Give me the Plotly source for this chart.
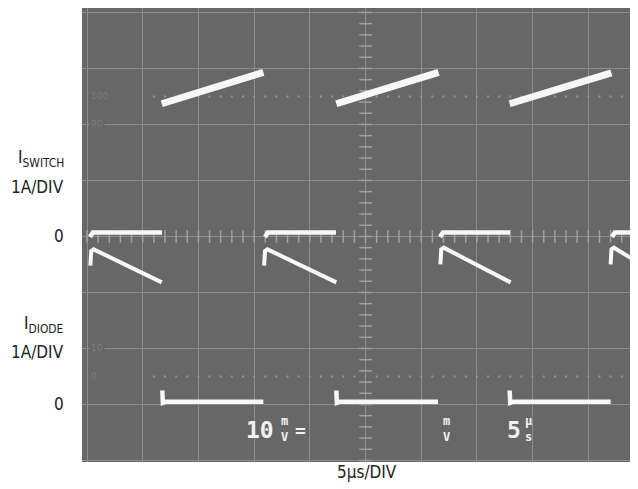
import plotly.graph_objects as go
import numpy as np

# scope settings: 5us/div horizontally, 1A/div vertically
US_PER_DIV = 5
SWITCH_ZERO_DIV = 4   # I_SWITCH ground reference (divisions from bottom)
DIODE_ZERO_DIV = 1    # I_DIODE ground reference

# I_SWITCH on-time ramps (us, A)
sw_on_start_t = [6.71, 22.38, 37.94]
sw_on_end_t = [15.83, 31.56, 47.07]
sw_on_start_i = [2.37, 2.37, 2.37]
sw_on_end_i = [2.93, 2.93, 2.92]

# I_SWITCH off-time (flat near 0)
sw_off_start_t = [0.27, 15.98, 31.69, 47.13]
sw_off_end_t = [6.73, 22.35, 37.97, 49.6]
sw_off_i = 0.07

# I_DIODE ramps (off-time of the switch)
di_start_t = [0.30, 15.90, 31.72, 47.00]
di_end_t = [6.71, 22.38, 38.03, 49.6]
di_edge_i = [2.48, 2.48, 2.50, 2.50]
di_peak_i = [2.77, 2.77, 2.80, 2.80]
di_end_i = [2.18, 2.18, 2.18, 2.52]

# I_DIODE zero portions
di_zero_start_t = [6.76, 22.38, 37.94]
di_zero_end_t = [15.83, 31.51, 47.01]
di_zero_spike_i = 0.25
di_zero_i = 0.05

BG = "#676767"
GRID = "#8d8d8d"
TRACE = "#f7f7f7"

fig = go.Figure()


def seg_trace(xs, ys, width):
    fig.add_trace(go.Scatter(x=xs, y=ys, mode="lines",
                             line=dict(color=TRACE, width=width),
                             hoverinfo="skip", showlegend=False))


# graticule center ticks (every 0.2 div)
tx = np.arange(0, 50.01, 1.0)
fig.add_trace(go.Scatter(x=tx, y=[SWITCH_ZERO_DIV] * len(tx), mode="markers",
                         marker=dict(symbol="line-ns", size=9, line=dict(color="#a0a0a0", width=1.5)),
                         hoverinfo="skip", showlegend=False))
ty = np.arange(0, 8.01, 0.2)
fig.add_trace(go.Scatter(x=[25] * len(ty), y=ty, mode="markers",
                         marker=dict(symbol="line-ew", size=9, line=dict(color="#a0a0a0", width=1.5)),
                         hoverinfo="skip", showlegend=False))
# dotted 100% / 0% lines
dx = np.arange(6, 50.01, 1.0)
for lvl in [6.5, 1.5]:
    fig.add_trace(go.Scatter(x=dx, y=[lvl] * len(dx), mode="markers",
                             marker=dict(symbol="square", size=2, color="#939393"),
                             hoverinfo="skip", showlegend=False))

# I_SWITCH
xs, ys = [], []
for t0, t1, i0, i1 in zip(sw_on_start_t, sw_on_end_t, sw_on_start_i, sw_on_end_i):
    xs += [t0, t1, None]
    ys += [SWITCH_ZERO_DIV + i0, SWITCH_ZERO_DIV + i1, None]
seg_trace(xs, ys, 7)

xs, ys = [], []
for t0, t1 in zip(sw_off_start_t, sw_off_end_t):
    xs += [t0, t0 + 0.25, t1, None]
    ys += [SWITCH_ZERO_DIV + sw_off_i - 0.08, SWITCH_ZERO_DIV + sw_off_i, SWITCH_ZERO_DIV + sw_off_i, None]
seg_trace(xs, ys, 4.5)

# I_DIODE
xs, ys = [], []
for t0, t1, ie, ip, i1 in zip(di_start_t, di_end_t, di_edge_i, di_peak_i, di_end_i):
    xs += [t0, t0 + 0.08, t0 + 0.3, t1, None]
    ys += [DIODE_ZERO_DIV + ie, DIODE_ZERO_DIV + ip - 0.03, DIODE_ZERO_DIV + ip, DIODE_ZERO_DIV + i1, None]
seg_trace(xs, ys, 4)

xs, ys = [], []
for t0, t1 in zip(di_zero_start_t, di_zero_end_t):
    xs += [t0, t0 + 0.05, t0 + 0.35, t1, None]
    ys += [DIODE_ZERO_DIV + di_zero_spike_i, DIODE_ZERO_DIV + di_zero_i - 0.02,
           DIODE_ZERO_DIV + di_zero_i, DIODE_ZERO_DIV + di_zero_i, None]
seg_trace(xs, ys, 4.5)

LBL = dict(family="DejaVu Sans Condensed, Liberation Sans Narrow, Liberation Sans", size=17, color="#222222")
side = [
    ("I<sub>SWITCH</sub>", 5.40),
    ("1A/DIV", 4.88),
    ("0", 4.0),
    ("I<sub>DIODE</sub>", 2.42),
    ("1A/DIV", 1.94),
    ("0", 1.0),
]
annotations = []
for txt, yv in side:
    annotations.append(dict(text=txt, x=-0.028, xref="paper", y=yv, yref="y",
                            xanchor="right", yanchor="middle", showarrow=False, font=LBL))
annotations.append(dict(text="5µs/DIV", x=0.512, xref="paper", y=-0.022, yref="paper",
                        xanchor="center", yanchor="middle", showarrow=False, font=LBL))

# faint graticule labels
FAINT = dict(family="DejaVu Sans", size=9, color="#7c7c7c")
for txt, yv in [("100", 6.5), ("90", 6.0), ("10", 2.0), ("0", 1.5)]:
    annotations.append(dict(text=txt, x=0.15, xref="x", y=yv, yref="y", xanchor="left",
                            yanchor="middle", showarrow=False, font=FAINT, bgcolor=BG))

# scope readouts
RD = dict(family="DejaVu Sans Mono", size=23, color="#f2f2f2")
RDS = dict(family="DejaVu Sans Mono", size=12, color="#f2f2f2")
annotations += [
    dict(text="<b>10</b>", x=15.53, y=0.545, xref="x", yref="y", showarrow=False, font=RD),
    dict(text="<b>m<br>V</b>", x=17.77, y=0.56, xref="x", yref="y", showarrow=False, font=RDS),
    dict(text="<b>=</b>", x=19.12, y=0.54, xref="x", yref="y", showarrow=False,
         font=dict(family="DejaVu Sans Mono", size=18, color="#f2f2f2")),
    dict(text="<b>m<br>V</b>", x=32.23, y=0.56, xref="x", yref="y", showarrow=False, font=RDS),
    dict(text="<b>5</b>", x=38.33, y=0.545, xref="x", yref="y", showarrow=False, font=RD),
    dict(text="<b>µ<br>s</b>", x=39.59, y=0.56, xref="x", yref="y", showarrow=False, font=RDS),
]

# the page body adds an 8px offset, so the figure is 8px smaller than the window
fig.update_layout(
    width=630,
    height=481,
    margin=dict(l=74, r=0, t=0, b=27),
    paper_bgcolor="white",
    plot_bgcolor=BG,
    showlegend=False,
    annotations=annotations,
    xaxis=dict(range=[-0.449, 49.46], dtick=US_PER_DIV, tick0=0, showgrid=True,
               gridcolor=GRID, gridwidth=1, zeroline=False, showticklabels=False,
               ticks="", fixedrange=True),
    yaxis=dict(range=[-0.027, 8.08], dtick=1, tick0=0, showgrid=True,
               gridcolor=GRID, gridwidth=1, zeroline=False, showticklabels=False,
               ticks="", fixedrange=True),
)

fig.write_html("out.html")
